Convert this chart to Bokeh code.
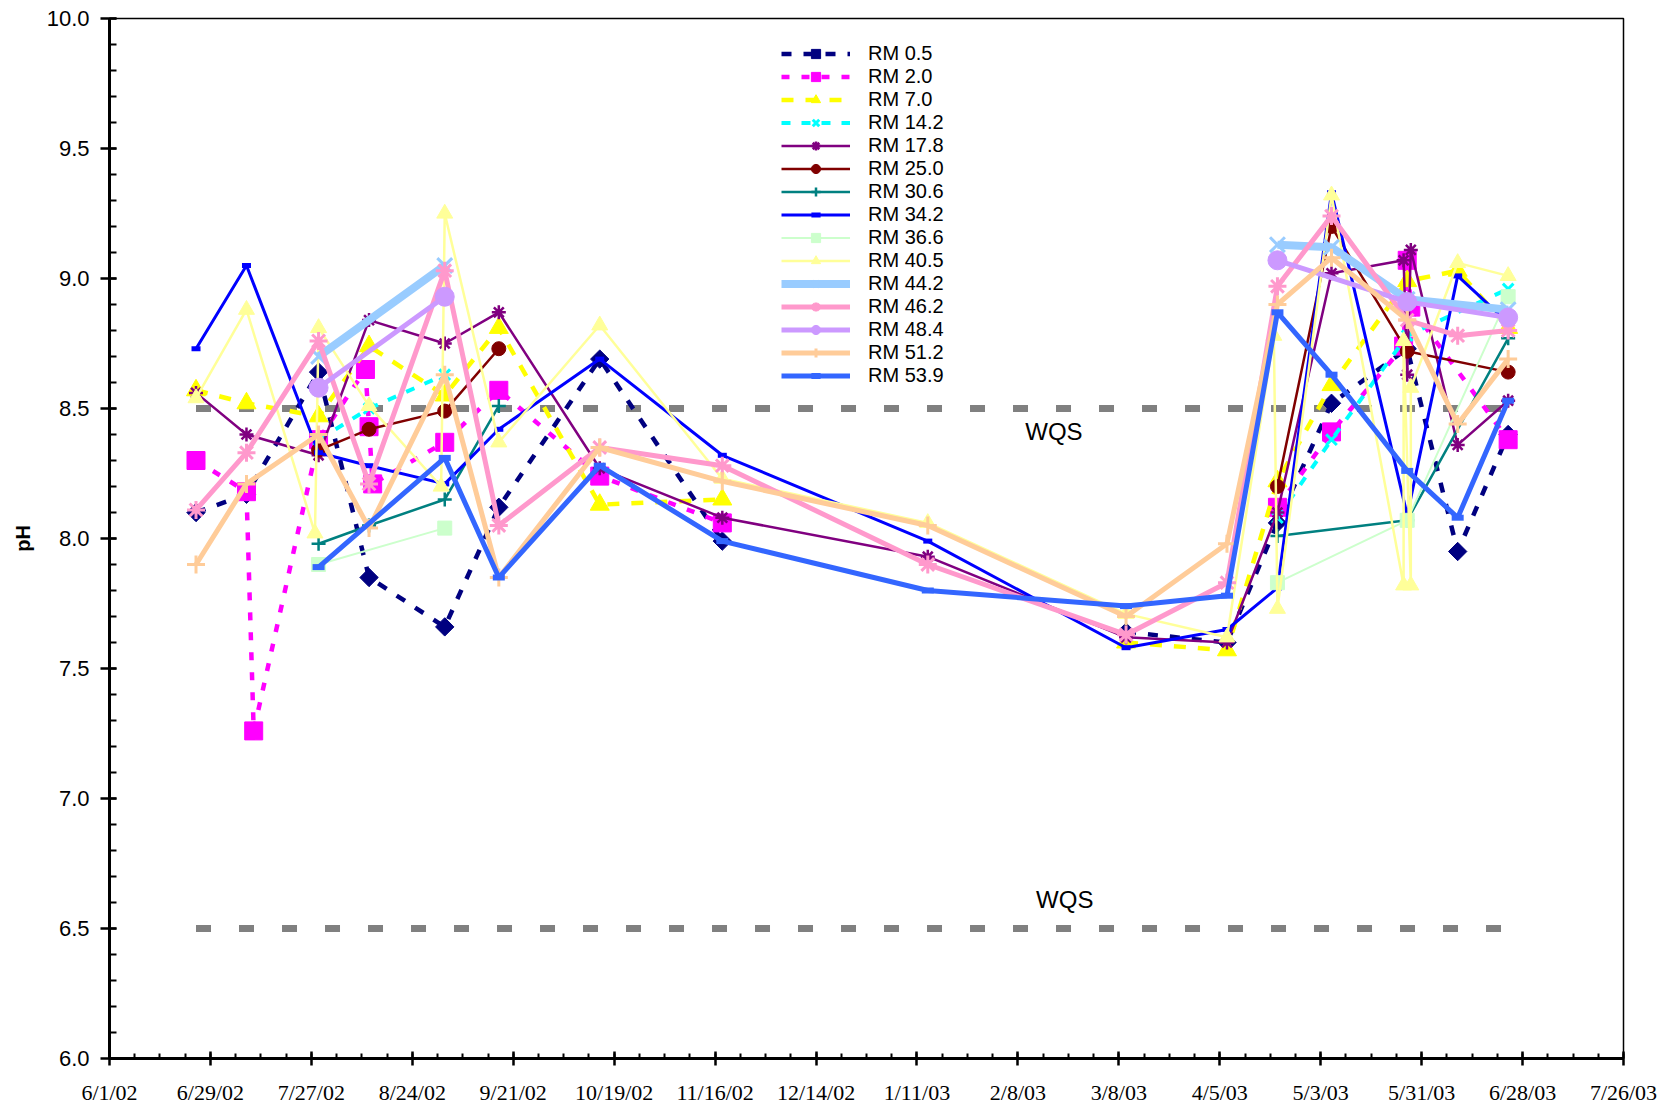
import numpy as np
import pandas as pd
from datetime import datetime
from bokeh.plotting import figure
from bokeh.models import (ColumnDataSource, Range1d, FixedTicker, Legend, LegendItem,
                          NumeralTickFormatter)
from bokeh.embed import file_html
from bokeh.resources import INLINE
from bokeh.core.properties import value

# ---------------- data ----------------
TICK_LABELS = ["6/1/02", "6/29/02", "7/27/02", "8/24/02", "9/21/02", "10/19/02", "11/16/02",
               "12/14/02", "1/11/03", "2/8/03", "3/8/03", "4/5/03", "5/3/03", "5/31/03",
               "6/28/03", "7/26/03"]
Y_TICKS = [6.0, 6.5, 7.0, 7.5, 8.0, 8.5, 9.0, 9.5, 10.0]
WQS_LEVELS = [8.5, 6.5]
WQS_DATES = ["2002-06-25", "2003-06-24"]
WQS_TEXT = ["WQS", "WQS"]
WQS_TEXT_DATES = ["2003-02-18", "2003-02-21"]
WQS_TEXT_PH = [8.41, 6.61]

SERIES_NAMES = ["RM 0.5", "RM 2.0", "RM 7.0", "RM 14.2", "RM 17.8", "RM 25.0", "RM 30.6",
                "RM 34.2", "RM 36.6", "RM 40.5", "RM 44.2", "RM 46.2", "RM 48.4", "RM 51.2",
                "RM 53.9"]

# None = no sample (line break)
rm_0_5_dates = ["2002-06-25", "2002-07-09", "2002-07-29", "2002-08-12", "2002-09-02", "2002-09-17",
                "2002-10-15", "2002-11-18", "2003-01-14", "2003-03-10", "2003-04-07", "2003-04-21",
                "2003-05-06", "2003-05-27", "2003-06-10", "2003-06-24"]
rm_0_5_ph = [8.10, 8.17, 8.64, 7.85, 7.66, 8.12, 8.69, 7.99, None, 7.64, 7.60, 8.06, 8.52, 8.73, 7.95, 8.40]

rm_2_0_dates = ["2002-06-25", "2002-07-09", "2002-07-11", "2002-07-29", "2002-08-11", "2002-08-12",
                "2002-08-13", "2002-09-02", "2002-09-17", "2002-10-15", "2002-11-18", "2003-01-14",
                "2003-04-21", "2003-05-06", "2003-05-26", "2003-05-27", "2003-05-28", "2003-06-24"]
rm_2_0_ph = [8.30, 8.18, 7.26, 8.38, 8.65, 8.43, 8.21, 8.37, 8.57, 8.24, 8.06, None,
             8.12, 8.41, 8.74, 9.07, 8.89, 8.38]

rm_7_0_dates = ["2002-06-25", "2002-07-09", "2002-07-29", "2002-08-12", "2002-09-02", "2002-09-17",
                "2002-10-15", "2002-11-18", "2003-01-14", "2003-03-10", "2003-04-07", "2003-04-21",
                "2003-05-06", "2003-05-27", "2003-06-10", "2003-06-24"]
rm_7_0_ph = [8.57, 8.52, 8.47, 8.74, 8.55, 8.81, 8.13, 8.15, None, 7.60, 7.57, 8.22, 8.59, 8.99, 9.03, 8.81]

rm_14_2_dates = ["2002-07-29", "2002-08-12", "2002-09-02", "2003-01-14", "2003-04-21", "2003-05-06",
                 "2003-05-27", "2003-06-24"]
rm_14_2_ph = [8.38, 8.50, 8.63, None, 8.08, 8.38, 8.78, 8.96]

rm_17_8_dates = ["2002-06-25", "2002-07-09", "2002-07-29", "2002-08-12", "2002-09-02", "2002-09-17",
                 "2002-10-15", "2002-11-18", "2003-01-14", "2003-03-10", "2003-04-07", "2003-04-21",
                 "2003-05-06", "2003-05-26", "2003-05-27", "2003-05-28", "2003-06-10", "2003-06-24"]
rm_17_8_ph = [8.56, 8.40, 8.32, 8.84, 8.75, 8.87, 8.27, 8.08, 7.93, 7.62, 7.60, 8.10,
              9.02, 9.07, 8.63, 9.11, 8.36, 8.53]

rm_25_0_dates = ["2002-07-29", "2002-08-12", "2002-09-02", "2002-09-17", "2003-01-14", "2003-04-21",
                 "2003-05-06", "2003-05-27", "2003-06-24"]
rm_25_0_ph = [8.34, 8.42, 8.49, 8.73, None, 8.20, 9.20, 8.72, 8.64]

rm_30_6_dates = ["2002-07-29", "2002-08-12", "2002-09-02", "2002-09-17", "2003-01-14", "2003-04-21",
                 "2003-05-27", "2003-06-24"]
rm_30_6_ph = [7.98, 8.05, 8.15, 8.51, None, 8.01, 8.07, 8.77]

rm_34_2_dates = ["2002-06-25", "2002-07-09", "2002-07-29", "2002-08-12", "2002-09-02", "2002-09-17",
                 "2002-10-15", "2002-11-18", "2003-01-14", "2003-03-10", "2003-04-07", "2003-04-21",
                 "2003-05-06", "2003-05-27", "2003-06-10", "2003-06-24"]
rm_34_2_ph = [8.73, 9.05, 8.33, 8.28, 8.21, 8.42, 8.69, 8.32, 7.99, 7.58, 7.65, 7.81, 9.33, 8.09, 9.01, 8.83]

rm_36_6_dates = ["2002-07-29", "2002-09-02", "2003-01-14", "2003-04-21", "2003-05-27", "2003-06-24"]
rm_36_6_ph = [7.90, 8.04, None, 7.83, 8.07, 8.93]

rm_40_5_dates = ["2002-06-25", "2002-07-09", "2002-07-28", "2002-07-29", "2002-08-12", "2002-09-01",
                 "2002-09-02", "2002-09-17", "2002-10-15", "2002-11-18", "2003-01-14", "2003-03-10",
                 "2003-04-07", "2003-04-20", "2003-04-21", "2003-05-06", "2003-05-26", "2003-05-26",
                 "2003-05-28", "2003-05-28", "2003-06-10", "2003-06-24"]
rm_40_5_ph = [8.54, 8.88, 8.02, 8.81, 8.51, 8.20, 9.25, 8.37, 8.82, 8.23, 8.06, 7.71,
              7.62, 8.78, 7.73, 9.32, 7.82, 8.76, 7.82, 8.58, 9.06, 9.01]

rm_44_2_dates = ["2002-07-29", "2002-09-02", "2003-01-14", "2003-04-21", "2003-05-06", "2003-05-27",
                 "2003-06-24"]
rm_44_2_ph = [8.70, 9.05, None, 9.13, 9.12, 8.92, 8.88]

rm_46_2_dates = ["2002-06-25", "2002-07-09", "2002-07-29", "2002-08-12", "2002-09-02", "2002-09-17",
                 "2002-10-15", "2002-11-18", "2003-01-14", "2003-03-10", "2003-04-07", "2003-04-21",
                 "2003-05-06", "2003-05-27", "2003-06-10", "2003-06-24"]
rm_46_2_ph = [8.11, 8.33, 8.76, 8.21, 9.03, 8.05, 8.35, 8.28, 7.90, 7.63, 7.83, 8.97, 9.24, 8.84, 8.78, 8.80]

rm_48_4_dates = ["2002-07-29", "2002-09-02", "2003-01-14", "2003-04-21", "2003-05-27", "2003-06-24"]
rm_48_4_ph = [8.58, 8.93, None, 9.07, 8.91, 8.85]

rm_51_2_dates = ["2002-06-25", "2002-07-09", "2002-07-29", "2002-08-12", "2002-09-02", "2002-09-17",
                 "2002-10-15", "2002-11-18", "2003-01-14", "2003-03-10", "2003-04-07", "2003-04-21",
                 "2003-05-06", "2003-05-27", "2003-06-10", "2003-06-24"]
rm_51_2_ph = [7.90, 8.21, 8.40, 8.04, 8.63, 7.85, 8.35, 8.22, 8.05, 7.70, 7.98, 8.90, 9.08, 8.84, 8.44, 8.69]

rm_53_9_dates = ["2002-07-29", "2002-09-02", "2002-09-17", "2002-10-15", "2002-11-18", "2003-01-14",
                 "2003-03-10", "2003-04-07", "2003-04-21", "2003-05-06", "2003-05-27", "2003-06-10",
                 "2003-06-24"]
rm_53_9_ph = [7.89, 8.31, 7.85, 8.28, 7.99, 7.80, 7.74, 7.78, 8.87, 8.63, 8.26, 8.08, 8.53]

SERIES_DATES = [rm_0_5_dates, rm_2_0_dates, rm_7_0_dates, rm_14_2_dates, rm_17_8_dates,
                rm_25_0_dates, rm_30_6_dates, rm_34_2_dates, rm_36_6_dates, rm_40_5_dates,
                rm_44_2_dates, rm_46_2_dates, rm_48_4_dates, rm_51_2_dates, rm_53_9_dates]
SERIES_PH = [rm_0_5_ph, rm_2_0_ph, rm_7_0_ph, rm_14_2_ph, rm_17_8_ph, rm_25_0_ph, rm_30_6_ph,
             rm_34_2_ph, rm_36_6_ph, rm_40_5_ph, rm_44_2_ph, rm_46_2_ph, rm_48_4_ph, rm_51_2_ph,
             rm_53_9_ph]

# ---------------- styles ----------------
# color, line dash, line width, marker, marker size, marker line width, angle
STYLES = [
    ("#000080", "10 12", 4.5, "square", 13, 1, np.pi / 4),
    ("#FF00FF", "8 12", 4.5, "square", 18, 1, 0),
    ("#FFFF00", "12 12", 4.5, "triangle", 19, 1, 0),
    ("#00FFFF", "9 11", 4, "x", 15, 3, 0),
    ("#800080", "solid", 2.5, "asterisk", 14, 2.5, 0),
    ("#800000", "solid", 2.5, "circle", 14, 1, 0),
    ("#008080", "solid", 2.5, "cross", 14, 2.5, 0),
    ("#0000FF", "solid", 3, "dash", 9, 5, 0),
    ("#CCFFCC", "solid", 2, "square", 14, 1, 0),
    ("#FFFF99", "solid", 2.5, "triangle", 16, 1, 0),
    ("#99CCFF", "solid", 8, "x", 21, 3, 0),
    ("#FF99CC", "solid", 5, "asterisk", 18, 3, 0),
    ("#CC99FF", "solid", 5, "circle", 19, 1, 0),
    ("#FFCC99", "solid", 5, "cross", 18, 3, 0),
    ("#3366FF", "solid", 5, "dash", 12, 6, 0),
]

FONT = "Liberation Sans"

p = figure(width=1667, height=1107, x_axis_type="datetime", output_backend="svg",
           toolbar_location=None,
           x_range=Range1d(datetime(2002, 6, 1), datetime(2003, 7, 26)),
           y_range=Range1d(6.0, 10.0),
           min_border_left=109, min_border_right=44, min_border_top=18, min_border_bottom=48)
p.xgrid.visible = False
p.ygrid.visible = False
p.outline_line_color = "black"
p.outline_line_width = 1.5
p.background_fill_color = "white"
p.border_fill_color = "white"

# WQS reference lines
for lvl in WQS_LEVELS:
    p.line(x=pd.to_datetime(WQS_DATES), y=[lvl, lvl], line_color="#808080", line_width=7,
           line_dash="15 28")
p.text(x=pd.to_datetime(WQS_TEXT_DATES), y=WQS_TEXT_PH, text=WQS_TEXT,
       text_font=value(FONT), text_font_size="24px", text_color="black",
       text_align="center", text_baseline="middle")

items = []
for name, dates, vals, st in zip(SERIES_NAMES, SERIES_DATES, SERIES_PH, STYLES):
    color, dash, lw, marker, msize, mlw, ang = st
    y = np.array([np.nan if v is None else v for v in vals], dtype=float)
    src = ColumnDataSource(dict(x=pd.to_datetime(dates), y=y))
    lr = p.line("x", "y", source=src, line_color=color, line_width=lw, line_dash=dash)
    if marker in ("x", "asterisk", "cross", "dash"):
        sr = p.scatter("x", "y", source=src, marker=marker, size=msize, line_color=color,
                       line_width=mlw, angle=ang)
    else:
        sr = p.scatter("x", "y", source=src, marker=marker, size=msize, fill_color=color,
                       line_color=color, line_width=mlw, angle=ang)
    items.append(LegendItem(label=name, renderers=[lr, sr]))

legend = Legend(items=items, location=(672, 671), padding=0, margin=0, spacing=0,
                glyph_width=69, glyph_height=23, label_height=23, label_standoff=18,
                label_text_font=FONT, label_text_font_size="20px", label_text_color="black",
                border_line_alpha=0, background_fill_alpha=0)
p.add_layout(legend)

# ---------------- axes ----------------
tick_dates = pd.to_datetime(TICK_LABELS, format="%m/%d/%y")
tick_ms = [float(d.value // 10**6) for d in tick_dates]
minor_ms = [float(d.value // 10**6) for d in pd.date_range(tick_dates[0], tick_dates[-1], freq="7D")]
p.xaxis.ticker = FixedTicker(ticks=tick_ms, minor_ticks=minor_ms)
p.xaxis.major_label_overrides = {t: lab for t, lab in zip(tick_ms, TICK_LABELS)}
p.xaxis.major_label_text_font = "Liberation Sans Narrow"
p.xaxis.major_label_text_font_size = "22px"
p.xaxis.major_label_text_color = "black"
p.xaxis.major_label_standoff = 14
p.xaxis.major_tick_in = 7
p.xaxis.major_tick_out = 7
p.xaxis.minor_tick_in = 5
p.xaxis.minor_tick_out = 0
p.xaxis.axis_line_width = 3
p.xaxis.major_tick_line_width = 2.5
p.xaxis.minor_tick_line_width = 2

p.yaxis.ticker = FixedTicker(ticks=Y_TICKS, minor_ticks=[round(6.0 + 0.1 * i, 1) for i in range(41)])
p.yaxis.formatter = NumeralTickFormatter(format="0.0")
p.yaxis.major_label_text_font = FONT
p.yaxis.major_label_text_font_size = "22px"
p.yaxis.major_label_text_color = "black"
p.yaxis.major_label_standoff = 11
p.yaxis.major_tick_in = 7
p.yaxis.major_tick_out = 9
p.yaxis.minor_tick_in = 7
p.yaxis.minor_tick_out = 0
p.yaxis.axis_line_width = 3
p.yaxis.major_tick_line_width = 2.5
p.yaxis.minor_tick_line_width = 2
p.yaxis.axis_label = "pH"
p.yaxis.axis_label_text_font = FONT
p.yaxis.axis_label_text_font_style = "bold"
p.yaxis.axis_label_text_font_size = "20px"
p.yaxis.axis_label_text_color = "black"
p.yaxis.axis_label_standoff = 10

open("out.html", "w").write(file_html(p, INLINE))
